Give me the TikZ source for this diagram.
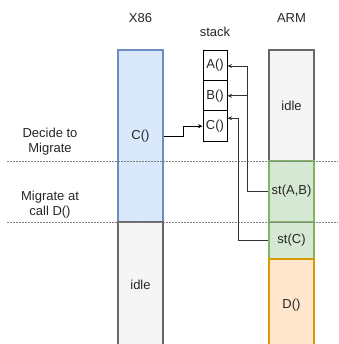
\documentclass[tikz,border=0pt]{standalone}
\usepackage{fontspec}
\setmainfont{Liberation Sans}
\usetikzlibrary{arrows.meta}
\definecolor{bluefill}{HTML}{DAE8FC}
\definecolor{bluedraw}{HTML}{6C8EBF}
\definecolor{grayfill}{HTML}{F5F5F5}
\definecolor{graydraw}{HTML}{666666}
\definecolor{greenfill}{HTML}{D5E8D4}
\definecolor{greendraw}{HTML}{82B366}
\definecolor{orangefill}{HTML}{FFE6CC}
\definecolor{orangedraw}{HTML}{D79B00}
\definecolor{linecol}{HTML}{333333}
\begin{document}
\begin{tikzpicture}[x=1pt,y=-1pt,
  every node/.style={font=\fontsize{13}{15}\selectfont, inner sep=0pt, text=black!85},
  col/.style={draw, line width=1.2pt, minimum width=45pt},
  bluebox/.style={col, fill=bluefill, draw=bluedraw},
  graybox/.style={col, fill=grayfill, draw=graydraw},
  greenbox/.style={col, fill=greenfill, draw=greendraw},
  orangebox/.style={col, fill=orangefill, draw=orangedraw},
  stackbox/.style={draw=black, line width=1pt, fill=white, minimum width=24pt, minimum height=30.4pt},
  conn/.style={draw=linecol, line width=0.7pt, -{Stealth[length=4.5pt,width=4pt]}},
  sep/.style={draw=gray, line width=0.8pt, dash pattern=on 1.5pt off 1.5pt},
  lbl/.style={align=center}
]
\useasboundingbox (0,0) rectangle (338,344);
\clip (0,0) rectangle (338,344);

% X86 column
\node[bluebox, minimum height=172pt] (xc) at (140.5,136) {C()};
\node[graybox, minimum height=126pt] (xidle) at (140.5,285) {idle};

% ARM column
\node[graybox, minimum height=111pt] (aidle) at (291.5,105.5) {idle};
\node[greenbox, minimum height=61pt] (stab) at (291.5,191.5) {st(A,B)};
\node[greenbox, minimum height=37pt] (stc) at (291.5,240.5) {st(C)};
\node[orangebox, minimum height=92pt] (dd) at (291.5,305) {D()};

% stack
\node[stackbox] (sa) at (215,65.4) {A()};
\node[stackbox] (sb) at (215,95.8) {B()};
\node[stackbox] (sc) at (215,126.2) {C()};

% headers
\node (hx) at (140.5,18) {X86};
\node (hs) at (215,32) {stack};
\node (ha) at (291.5,18) {ARM};

% left labels
\node[lbl] (l1) at (50,142) {Decide to\\Migrate};
\node[lbl] (l2) at (50,205) {Migrate at\\call D()};

% separators
\coordinate (d1a) at (7,161);
\coordinate (d1b) at (338,161);
\coordinate (d2a) at (7,222);
\coordinate (d2b) at (338,222);
\draw[sep] (d1a) -- (d1b);
\draw[sep] (d2a) -- (d2b);

% connectors
\draw[conn, draw=black] (xc.east) -- ([xshift=20pt]xc.east) |- (sc.west);
\draw[conn] (stab.west) -| ([xshift=20pt,yshift=-0.6pt]sa.east) -- ([yshift=-0.6pt]sa.east);
\draw[conn] ([xshift=20pt]sb.east) -- (sb.east);
\draw[conn] (stc.west) -| ([xshift=11pt,yshift=8pt]sc.east) -- ([yshift=8pt]sc.east);
\end{tikzpicture}
\end{document}
